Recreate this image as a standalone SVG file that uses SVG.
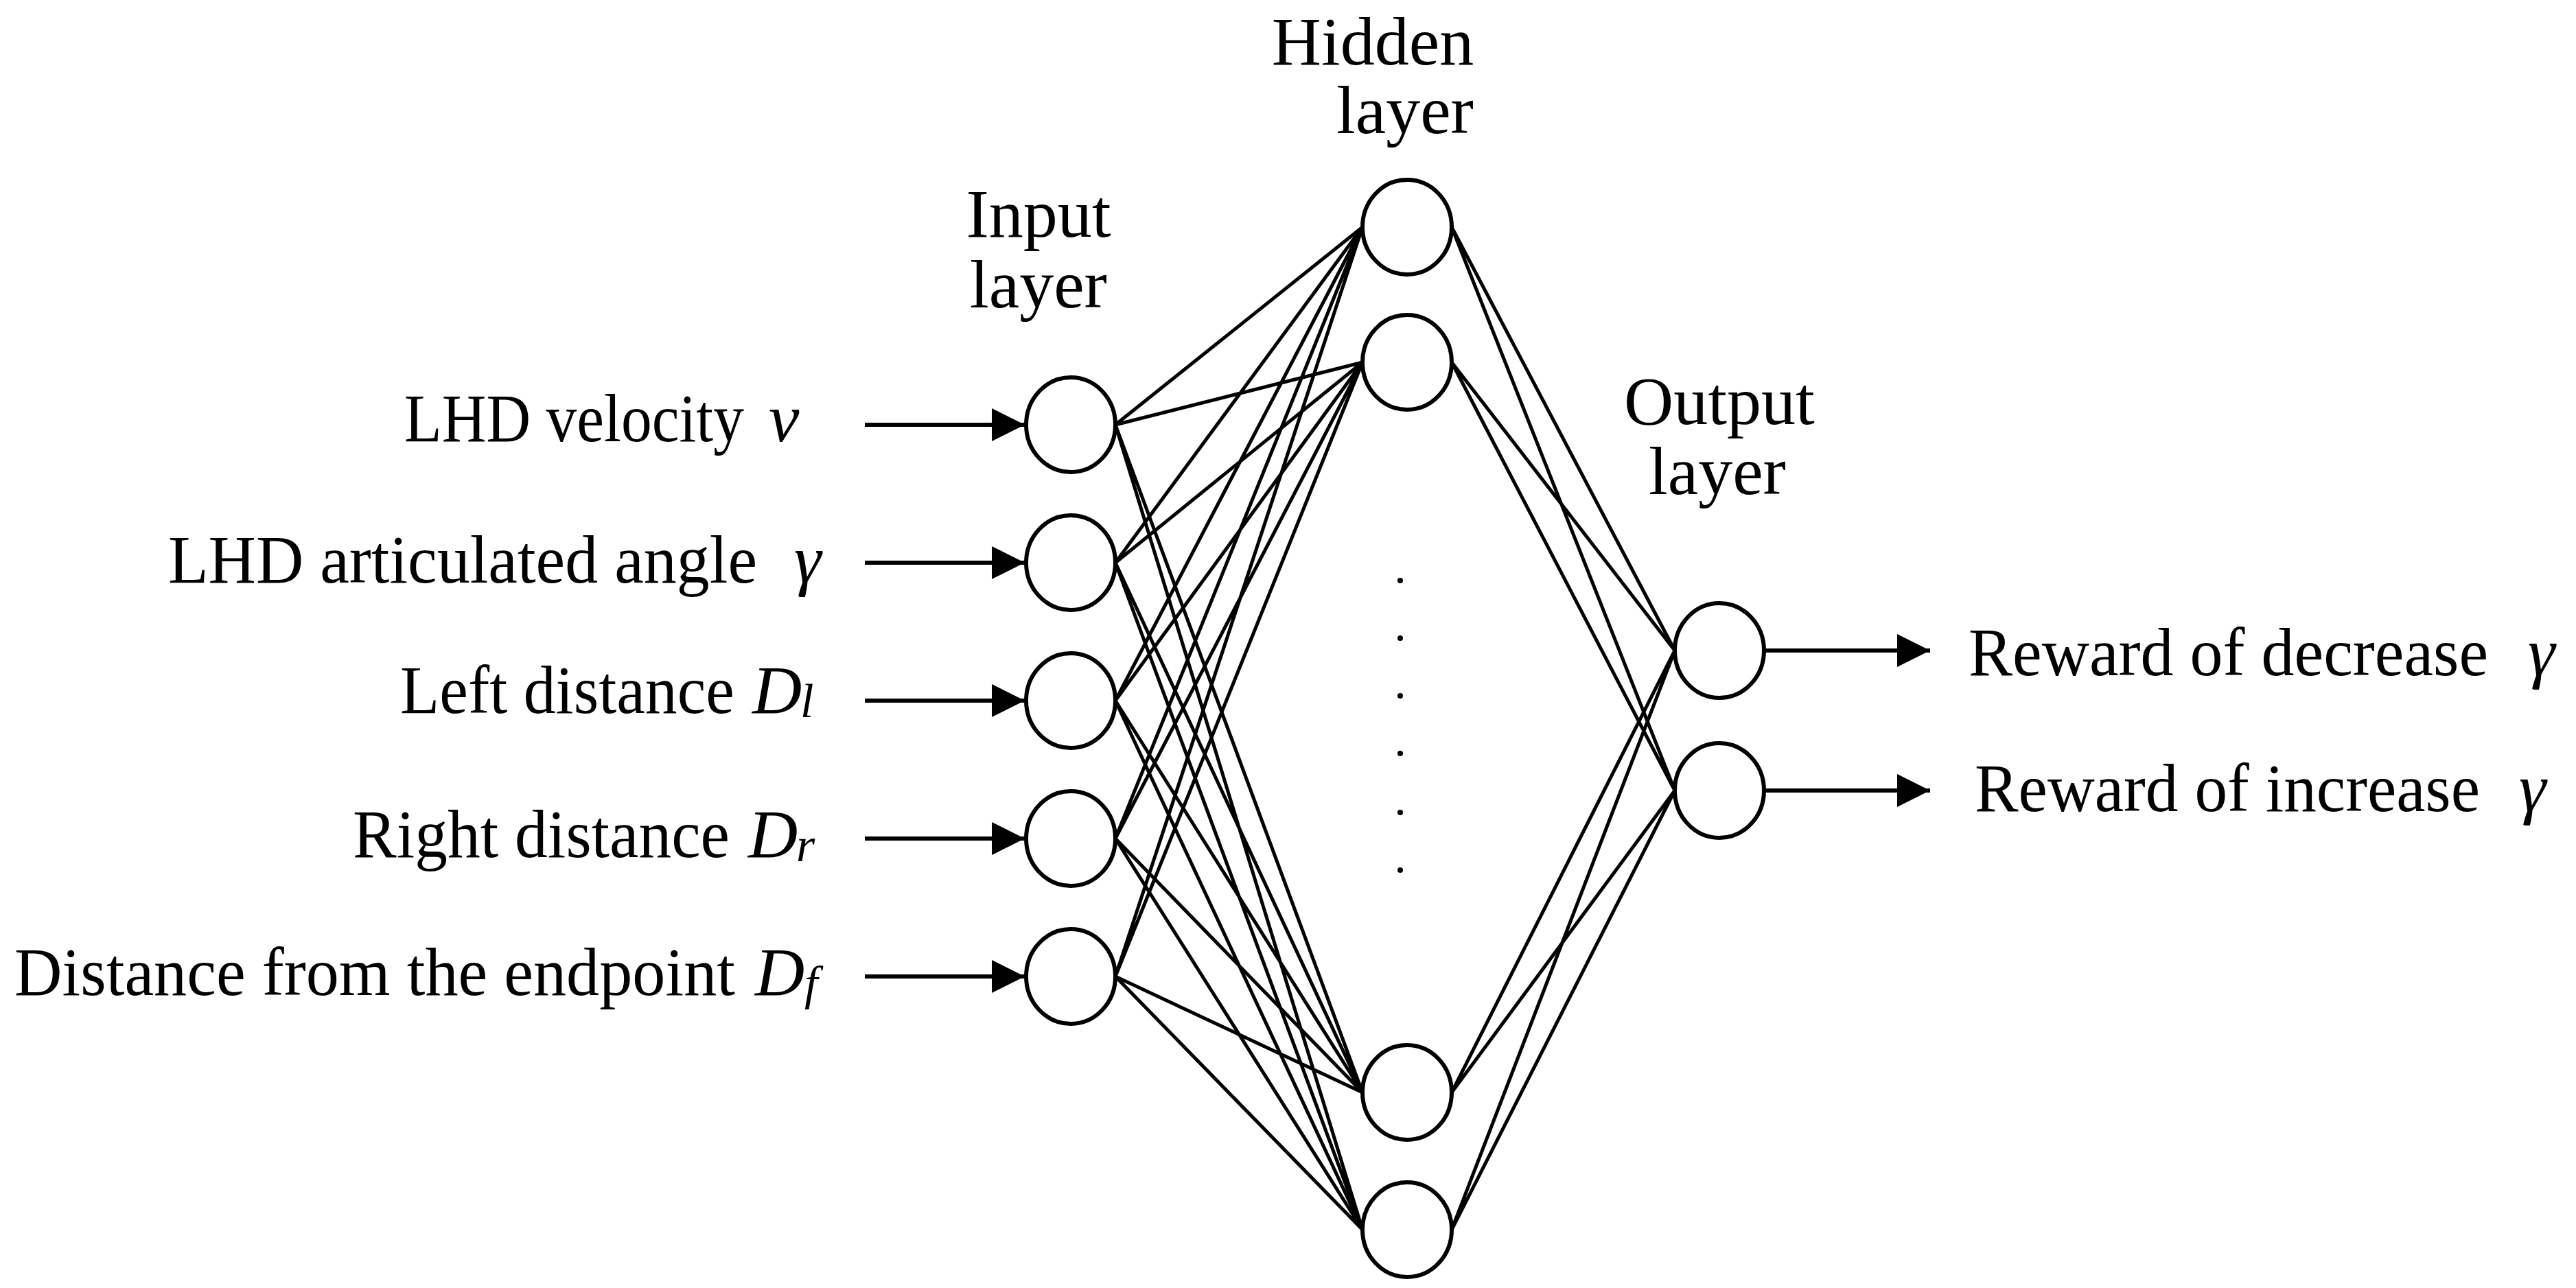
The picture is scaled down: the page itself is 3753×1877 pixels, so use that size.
<svg xmlns="http://www.w3.org/2000/svg" width="3753" height="1877" viewBox="0 0 3753 1877">
<style>
.n{fill:#fff;stroke:#000;stroke-width:6}
.c{stroke:#000;stroke-width:5;fill:none}
.a{stroke:#000;stroke-width:6;fill:none;marker-end:url(#ah)}
text{font-family:"Liberation Serif",serif;font-size:100px;fill:#000}
.i{font-style:italic}
.s{font-style:italic;font-size:70px}
.m{text-anchor:middle}
</style>
<defs><marker id="ah" markerUnits="userSpaceOnUse" markerWidth="50" markerHeight="50" refX="48" refY="24" orient="auto"><path d="M0,0L48,24L0,48Z" fill="#000"/></marker></defs>
<rect width="3753" height="1877" fill="#fff"/>
<g id="connectors">
<path class="c" d="M1625,619L1985,331M1625,619L1985,528M1625,619L1985,1592M1625,619L1985,1792
M1625,820L1985,331M1625,820L1985,528M1625,820L1985,1592M1625,820L1985,1792
M1625,1021L1985,331M1625,1021L1985,528M1625,1021L1985,1592M1625,1021L1985,1792
M1625,1222L1985,331M1625,1222L1985,528M1625,1222L1985,1592M1625,1222L1985,1792
M1625,1423L1985,331M1625,1423L1985,528M1625,1423L1985,1592M1625,1423L1985,1792
M2115,331L2440,948M2115,331L2440,1152M2115,528L2440,948M2115,528L2440,1152
M2115,1592L2440,948M2115,1592L2440,1152M2115,1792L2440,948M2115,1792L2440,1152"/>
<path class="a" d="M1260,619H1493"/>
<path class="a" d="M1260,820H1493"/>
<path class="a" d="M1260,1021H1493"/>
<path class="a" d="M1260,1222H1493"/>
<path class="a" d="M1260,1423H1493"/>
<path class="a" d="M2570,948H2812"/>
<path class="a" d="M2570,1152H2812"/>
</g>
<g id="in1"><ellipse class="n" cx="1560" cy="619" rx="65" ry="69"/></g>
<g id="in2"><ellipse class="n" cx="1560" cy="820" rx="65" ry="69"/></g>
<g id="in3"><ellipse class="n" cx="1560" cy="1021" rx="65" ry="69"/></g>
<g id="in4"><ellipse class="n" cx="1560" cy="1222" rx="65" ry="69"/></g>
<g id="in5"><ellipse class="n" cx="1560" cy="1423" rx="65" ry="69"/></g>
<g id="h1"><ellipse class="n" cx="2050" cy="331" rx="65" ry="69"/></g>
<g id="h2"><ellipse class="n" cx="2050" cy="528" rx="65" ry="69"/></g>
<g id="h3"><ellipse class="n" cx="2050" cy="1592" rx="65" ry="69"/></g>
<g id="h4"><ellipse class="n" cx="2050" cy="1792" rx="65" ry="69"/></g>
<g id="o1"><ellipse class="n" cx="2505" cy="948" rx="65" ry="69"/></g>
<g id="o2"><ellipse class="n" cx="2505" cy="1152" rx="65" ry="69"/></g>
<g id="dots" fill="#000"><circle cx="2040" cy="846" r="4"/><circle cx="2040" cy="930" r="4"/><circle cx="2040" cy="1014" r="4"/><circle cx="2040" cy="1098" r="4"/><circle cx="2040" cy="1184" r="4"/><circle cx="2040" cy="1268" r="4"/></g>
<g id="labels">
<text class="m" x="1513" y="345">Input</text><text class="m" x="1513" y="448">layer</text>
<text class="m" x="2000" y="94">Hidden</text><text class="m" x="2047" y="194">layer</text>
<text class="m" x="2505" y="618">Output</text><text class="m" x="2502" y="720">layer</text>
<text x="589" y="643" textLength="495" lengthAdjust="spacingAndGlyphs">LHD velocity</text><text class="i" x="1120" y="643">v</text>
<text x="245" y="849" textLength="858" lengthAdjust="spacingAndGlyphs">LHD articulated angle</text><text class="i" x="1157" y="849">γ</text>
<text x="583" y="1039" textLength="487" lengthAdjust="spacingAndGlyphs">Left distance</text><text class="i" x="1096" y="1039">D</text><text class="s" x="1166" y="1045">l</text>
<text x="514" y="1249" textLength="549" lengthAdjust="spacingAndGlyphs">Right distance</text><text class="i" x="1090" y="1249">D</text><text class="s" x="1160" y="1255">r</text>
<text x="21" y="1450" textLength="1050" lengthAdjust="spacingAndGlyphs">Distance from the endpoint</text><text class="i" x="1100" y="1450">D</text><text class="s" x="1172" y="1456">f</text>
<text x="2868" y="984" textLength="757" lengthAdjust="spacingAndGlyphs">Reward of decrease</text><text class="i" x="3683" y="984">γ</text>
<text x="2877" y="1182" textLength="736" lengthAdjust="spacingAndGlyphs">Reward of increase</text><text class="i" x="3670" y="1182">γ</text>
</g>
</svg>
